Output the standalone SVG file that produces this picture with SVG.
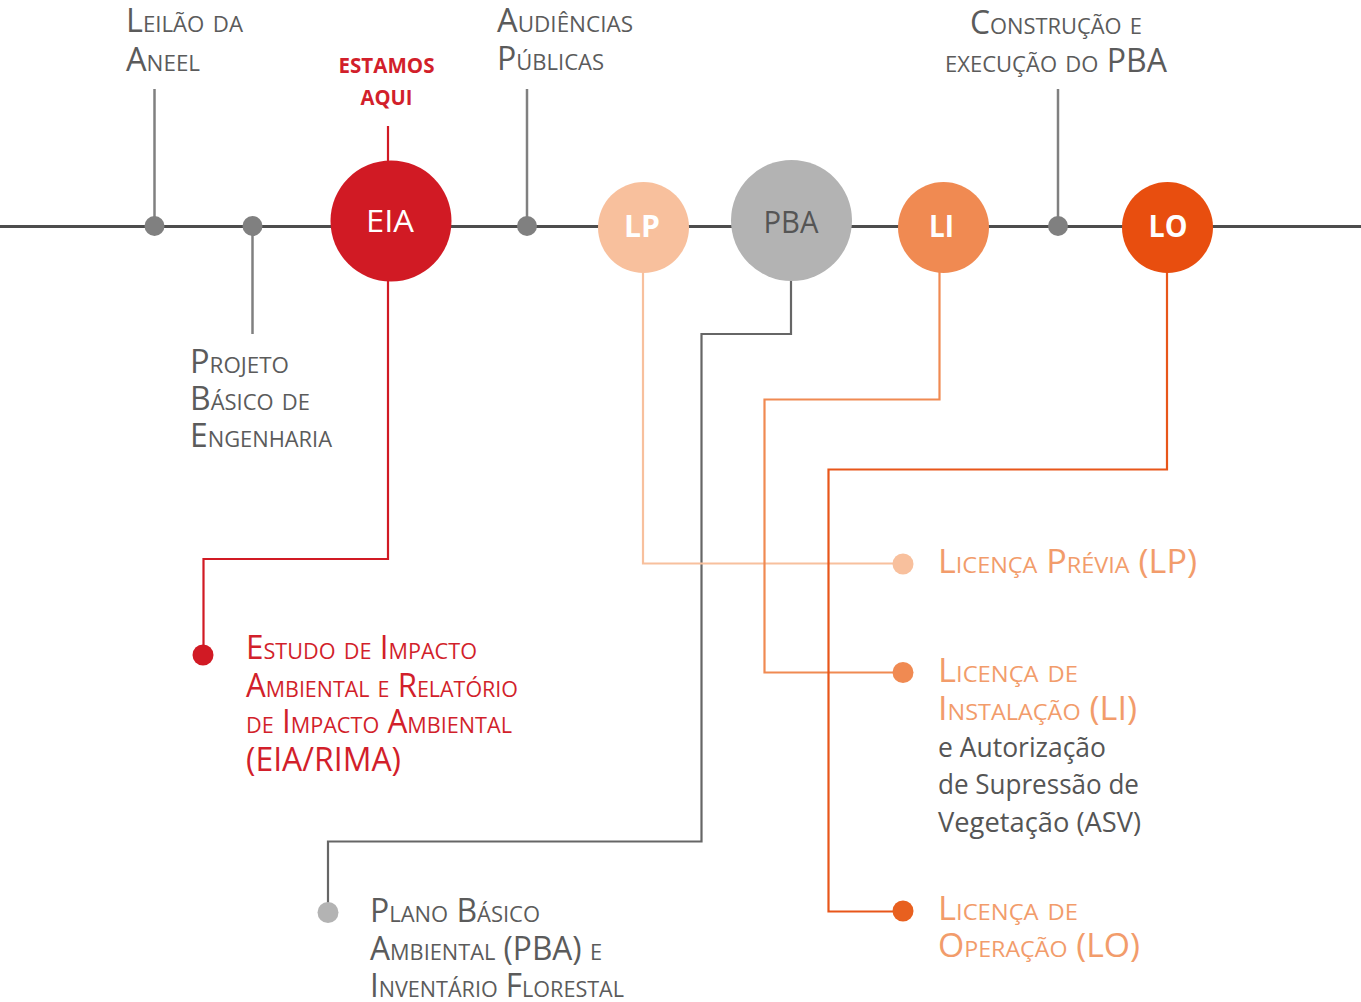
<svg xmlns="http://www.w3.org/2000/svg" width="1361" height="1002" viewBox="0 0 1361 1002">
<style>
  text { font-family: "Open Sans", "Noto Sans", sans-serif; }
  .sc { font-variant: small-caps; font-size: 32px; }
  .gray { fill: #5b5b5b; }
  .red { fill: #d21f2b; }
  .orange { fill: #f29c6b; }
  .plain { font-size: 27px; fill: #555555; }
  .tick { stroke: #808080; stroke-width: 2.5; fill: none; }
  .con { fill: none; stroke-width: 2.2; stroke-linejoin: miter; }
  .ctext { font-size: 31px; text-anchor: middle; }
  .btext { font-size: 30px; font-weight: bold; fill: #ffffff; text-anchor: middle; }
</style>

<g id="timeline">
  <line x1="0" y1="226.5" x2="1361" y2="226.5" stroke="#4d4d4d" stroke-width="3"/>
</g>

<g id="connectors">
  <line class="tick" x1="154.5" y1="89" x2="154.5" y2="226"/>
  <line class="tick" x1="252.5" y1="226" x2="252.5" y2="334"/>
  <line class="tick" x1="527" y1="89" x2="527" y2="226"/>
  <line class="tick" x1="1058" y1="89" x2="1058" y2="226"/>
  <line class="con" stroke="#d11a24" x1="388" y1="126" x2="388" y2="165"/>
  <path class="con" stroke="#d11a24" d="M388,275 V559 H203.5 V655"/>
  <path class="con" stroke="#666666" d="M791,275 V334 H701.5 V841.5 H328 V912"/>
  <path class="con" stroke="#f8c09d" d="M643,268 V563.5 H903"/>
  <path class="con" stroke="#f08a52" d="M939.5,268 V399.5 H764.5 V672.5 H903"/>
  <path class="con" stroke="#e8561a" d="M1167,268 V469.5 H828.5 V911.5 H903"/>
</g>

<g id="dots">
  <circle cx="154.5" cy="226" r="10" fill="#808080"/>
  <circle cx="252.5" cy="226" r="10" fill="#808080"/>
  <circle cx="527" cy="226" r="10" fill="#808080"/>
  <circle cx="1058" cy="226" r="10" fill="#808080"/>
</g>

<g id="node-leilao">
  <text class="sc gray" x="126" y="32" textLength="117" lengthAdjust="spacingAndGlyphs">Leilão da</text>
  <text class="sc gray" x="126" y="71" textLength="74" lengthAdjust="spacingAndGlyphs">Aneel</text>
</g>

<g id="node-projeto">
  <text class="sc gray" x="190" y="373" textLength="99" lengthAdjust="spacingAndGlyphs">Projeto</text>
  <text class="sc gray" x="190" y="410" textLength="120" lengthAdjust="spacingAndGlyphs">Básico de</text>
  <text class="sc gray" x="190" y="447" textLength="142" lengthAdjust="spacingAndGlyphs">Engenharia</text>
</g>

<g id="node-estamos">
  <text x="386.5" y="73" font-size="20.5" font-weight="bold" text-anchor="middle" class="red" textLength="96" lengthAdjust="spacingAndGlyphs">ESTAMOS</text>
  <text x="386.5" y="105" font-size="20.5" font-weight="bold" text-anchor="middle" class="red" textLength="52" lengthAdjust="spacingAndGlyphs">AQUI</text>
</g>

<g id="node-eia">
  <circle cx="391" cy="221" r="60.5" fill="#d11a24"/>
  <text class="ctext" x="390" y="232" fill="#ffffff" textLength="48" lengthAdjust="spacingAndGlyphs">EIA</text>
</g>

<g id="node-audiencias">
  <text class="sc gray" x="497" y="32" textLength="136" lengthAdjust="spacingAndGlyphs">Audiências</text>
  <text class="sc gray" x="497" y="70" textLength="107" lengthAdjust="spacingAndGlyphs">Públicas</text>
</g>

<g id="node-lp">
  <circle cx="643.5" cy="227.5" r="45.5" fill="#f8c09d"/>
  <text class="btext" x="642" y="237" textLength="36" lengthAdjust="spacingAndGlyphs">LP</text>
</g>

<g id="node-pba">
  <circle cx="791.5" cy="220.5" r="60.5" fill="#b3b3b3"/>
  <text class="ctext" x="791" y="233" fill="#555555" textLength="55" lengthAdjust="spacingAndGlyphs">PBA</text>
</g>

<g id="node-li">
  <circle cx="943.5" cy="227.5" r="45.5" fill="#f08a52"/>
  <text class="btext" x="941.5" y="237" textLength="25" lengthAdjust="spacingAndGlyphs">LI</text>
</g>

<g id="node-construcao">
  <text class="sc gray" x="1056" y="34" text-anchor="middle" textLength="172" lengthAdjust="spacingAndGlyphs">Construção e</text>
  <text class="sc gray" x="1056" y="72" text-anchor="middle" textLength="222" lengthAdjust="spacingAndGlyphs">execução do PBA</text>
</g>

<g id="node-lo">
  <circle cx="1167.5" cy="227.5" r="45.5" fill="#e84e0f"/>
  <text class="btext" x="1168" y="237" textLength="39" lengthAdjust="spacingAndGlyphs">LO</text>
</g>

<g id="node-eia-rima">
  <circle cx="203" cy="655" r="10.5" fill="#d11a24"/>
  <text class="sc red" x="246" y="659" textLength="231" lengthAdjust="spacingAndGlyphs">Estudo de Impacto</text>
  <text class="sc red" x="246" y="697" textLength="272" lengthAdjust="spacingAndGlyphs">Ambiental e Relatório</text>
  <text class="sc red" x="246" y="733" textLength="266" lengthAdjust="spacingAndGlyphs">de Impacto Ambiental</text>
  <text class="sc red" x="246" y="771" textLength="155" lengthAdjust="spacingAndGlyphs">(EIA/RIMA)</text>
</g>

<g id="node-licenca-previa">
  <circle cx="903" cy="564" r="10.5" fill="#f8c09d"/>
  <text class="sc orange" x="938" y="573" textLength="259" lengthAdjust="spacingAndGlyphs">Licença Prévia (LP)</text>
</g>

<g id="node-licenca-instalacao">
  <circle cx="903" cy="672.5" r="10.5" fill="#f08a52"/>
  <text class="sc orange" x="938" y="682" textLength="140" lengthAdjust="spacingAndGlyphs">Licença de</text>
  <text class="sc orange" x="938" y="720" textLength="199" lengthAdjust="spacingAndGlyphs">Instalação (LI)</text>
  <text class="plain" x="938" y="757" textLength="168" lengthAdjust="spacingAndGlyphs">e Autorização</text>
  <text class="plain" x="938" y="794" textLength="201" lengthAdjust="spacingAndGlyphs">de Supressão de</text>
  <text class="plain" x="938" y="832" textLength="203" lengthAdjust="spacingAndGlyphs">Vegetação (ASV)</text>
</g>

<g id="node-licenca-operacao">
  <circle cx="903" cy="911" r="10.5" fill="#e8601f"/>
  <text class="sc orange" x="938" y="920" textLength="140" lengthAdjust="spacingAndGlyphs">Licença de</text>
  <text class="sc orange" x="938" y="957" textLength="202" lengthAdjust="spacingAndGlyphs">Operação (LO)</text>
</g>

<g id="node-plano">
  <circle cx="328" cy="912.5" r="10.5" fill="#b3b3b3"/>
  <text class="sc gray" x="370" y="922" textLength="170" lengthAdjust="spacingAndGlyphs">Plano Básico</text>
  <text class="sc gray" x="370" y="960" textLength="232" lengthAdjust="spacingAndGlyphs">Ambiental (PBA) e</text>
  <text class="sc gray" x="370" y="997" textLength="254" lengthAdjust="spacingAndGlyphs">Inventário Florestal</text>
</g>
</svg>
